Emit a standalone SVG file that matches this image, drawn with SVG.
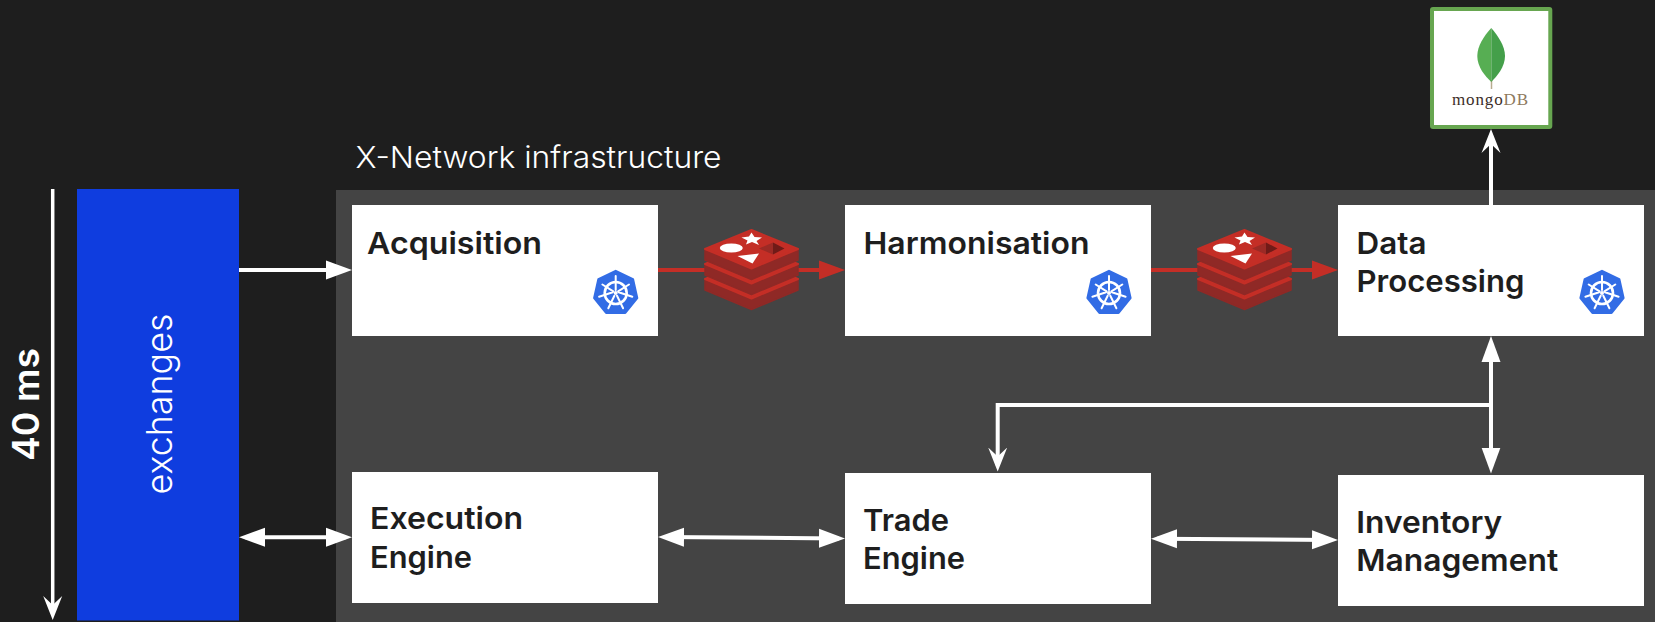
<svg xmlns="http://www.w3.org/2000/svg" width="1655" height="622" viewBox="0 0 1655 622">
<style>
.bg{fill:#1e1e1e}.panel{fill:#444444}.box{fill:#ffffff}
.t{font-family:"Inter","Liberation Sans",sans-serif;font-size:30.5px;font-weight:600;fill:#1e1e1e}
.l{font-family:"Inter","Liberation Sans",sans-serif;fill:#ffffff}
.c{fill:none;stroke:#ffffff;stroke-width:4}
.r{fill:none;stroke:#c42e26;stroke-width:4}
.m{font-family:"Liberation Serif",serif;font-size:17px}
</style>
<defs>
<marker id="h" markerUnits="userSpaceOnUse" markerWidth="28" markerHeight="22" viewBox="0 -11 28 22" refX="20" refY="0" orient="auto-start-reverse"><path d="M0-9.5L26 0L0 9.5Z" fill="#ffffff"/></marker>
<marker id="hr" markerUnits="userSpaceOnUse" markerWidth="28" markerHeight="22" viewBox="0 -11 28 22" refX="20" refY="0" orient="auto-start-reverse"><path d="M0-9.5L26 0L0 9.5Z" fill="#c42e26"/></marker>
<marker id="o" markerUnits="userSpaceOnUse" markerWidth="28" markerHeight="22" viewBox="0 -11 28 22" refX="18" refY="0" orient="auto"><path d="M0-9.5L24 0L0 9.5L9 0Z" fill="#ffffff"/></marker>
<g id="kube">
<path d="M0-22L17.2-13.7L21.4 4.9L9.5 19.800L-9.5 19.800L-21.4 4.9L-17.2-13.7Z" fill="#326ce5" stroke="#326ce5" stroke-width="2.4" stroke-linejoin="round"/>
<circle r="11" fill="none" stroke="#fff" stroke-width="2.6"/>
<path d="M0-3V-17M2.4-1.6L13.3-8.5M3-.7L16.6 3.8M1.3 2.7L7.4 15.3M-1.3 2.7L-7.4 15.3M-3-.7L-16.6 3.8M-2.4-1.6L-13.3-8.5" stroke="#fff" stroke-width="2" fill="none" stroke-linecap="round"/>
<circle r="2" fill="#fff"/>
</g>
<g id="layer">
<path d="M-46.5 20V31L0 50.5L46.5 31V20L0 39.5Z" fill="#8f2926" stroke="#8f2926" stroke-width="1.5" stroke-linejoin="round"/>
<path d="M-46.5 20L0 1L46.5 20L0 39.5Z" fill="#c42e26" stroke="#c42e26" stroke-width="2" stroke-linejoin="round"/>
</g>
<g id="redis">
<use href="#layer" y="30"/><use href="#layer" y="15"/><use href="#layer"/>
<ellipse cx="-20.2" cy="19" rx="11.5" ry="4.6" fill="#fff"/>
<path d="M0 3.5L3 8L10.5 8.5L5 12L7.5 16L0.5 13L-5.5 15.5L-4 11.5L-10 8.5L-2.5 7.5Z" fill="#fff"/>
<path d="M-14 27L7.5 24.5L1 34.5Z" fill="#fff"/>
<path d="M7.5 19.5L21.5 13.5V25.5Z" fill="#9c2a25"/>
<path d="M21.5 13.5L33 19.5L21.5 25.5Z" fill="#701b18"/>
</g>
</defs>
<rect class="bg" width="1655" height="622"/>
<rect class="panel" x="336" y="190" width="1319" height="432"/>
<text class="l" x="355.500" y="168" font-size="30" font-weight="300" textLength="366" lengthAdjust="spacingAndGlyphs">X-Network infrastructure</text>
<g id="connectors">
<path class="c" style="stroke-width:3.5" d="M52.700 189V614" marker-end="url(#o)"/>
<path class="c" d="M239 270H346" marker-end="url(#h)"/>
<path class="c" d="M245 537.300H346" marker-start="url(#h)" marker-end="url(#h)"/>
<path class="r" d="M658 270H839" marker-end="url(#hr)"/>
<path class="r" d="M1151 270H1332" marker-end="url(#hr)"/>
<path class="c" d="M1491 205V135" marker-end="url(#o)"/>
<path class="c" d="M1491 342V467.500" marker-start="url(#h)" marker-end="url(#h)"/>
<path class="c" d="M1491 405H997.700V465.500" marker-end="url(#o)"/>
<path class="c" d="M664 537L839 538.500" marker-start="url(#h)" marker-end="url(#h)"/>
<path class="c" d="M1157 538.700L1332 540" marker-start="url(#h)" marker-end="url(#h)"/>
</g>
<g id="exchanges">
<rect x="77" y="189" width="162" height="431.500" fill="#0f3ddf"/>
<text class="l" transform="translate(172 494.500) rotate(-90)" font-size="36" font-weight="300" textLength="181" lengthAdjust="spacingAndGlyphs">exchanges</text>
</g>
<g id="latency">
<text class="l" transform="translate(39 461) rotate(-90)" font-size="37" font-weight="600" textLength="113" lengthAdjust="spacingAndGlyphs">40 ms</text>
</g>
<g id="acquisition">
<rect class="box" x="352" y="205" width="306" height="131"/>
<text class="t" x="367" y="254" textLength="175" lengthAdjust="spacingAndGlyphs">Acquisition</text>
<use href="#kube" x="615.700" y="293"/>
</g>
<g id="redis-1"><use href="#redis" x="751.500" y="229"/></g>
<g id="harmonisation">
<rect class="box" x="845" y="205" width="306" height="131"/>
<text class="t" x="863.500" y="254" textLength="226" lengthAdjust="spacingAndGlyphs">Harmonisation</text>
<use href="#kube" x="1109" y="293"/>
</g>
<g id="redis-2"><use href="#redis" x="1244.500" y="229"/></g>
<g id="data-processing">
<rect class="box" x="1338" y="205" width="306" height="131"/>
<text class="t" x="1356.500" y="254" textLength="70" lengthAdjust="spacingAndGlyphs">Data</text>
<text class="t" x="1356.500" y="292" textLength="168" lengthAdjust="spacingAndGlyphs">Processing</text>
<use href="#kube" x="1602" y="293"/>
</g>
<g id="mongodb">
<rect x="1432" y="9" width="118.300" height="118" rx="1" fill="#fff" stroke="#67a650" stroke-width="4"/>
<path d="M1491.500 80V89" stroke="#b8ab8f" stroke-width="1.500"/>
<path d="M1491.300 28C1484 36 1477.300 46 1477.300 56C1477.300 67 1485 76 1491.300 82Z" fill="#57ae53"/>
<path d="M1491.300 28C1498 36 1505 46 1505 56C1505 67 1497 76 1491.300 82Z" fill="#449f4a"/>
<text class="m" x="1452" y="105" fill="#3b2d28" textLength="76" lengthAdjust="spacing">mongo<tspan fill="#8e7a5e">DB</tspan></text>
</g>
<g id="execution-engine">
<rect class="box" x="352" y="472" width="306" height="131"/>
<text class="t" x="370" y="529" textLength="153" lengthAdjust="spacingAndGlyphs">Execution</text>
<text class="t" x="370" y="567.500" textLength="102" lengthAdjust="spacingAndGlyphs">Engine</text>
</g>
<g id="trade-engine">
<rect class="box" x="845" y="473" width="306" height="131"/>
<text class="t" x="863" y="530.500" textLength="86" lengthAdjust="spacingAndGlyphs">Trade</text>
<text class="t" x="863" y="569" textLength="102" lengthAdjust="spacingAndGlyphs">Engine</text>
</g>
<g id="inventory-management">
<rect class="box" x="1338" y="475" width="306" height="131"/>
<text class="t" x="1356.200" y="532.500" textLength="146" lengthAdjust="spacingAndGlyphs">Inventory</text>
<text class="t" x="1356.200" y="571" textLength="202" lengthAdjust="spacingAndGlyphs">Management</text>
</g>
</svg>
